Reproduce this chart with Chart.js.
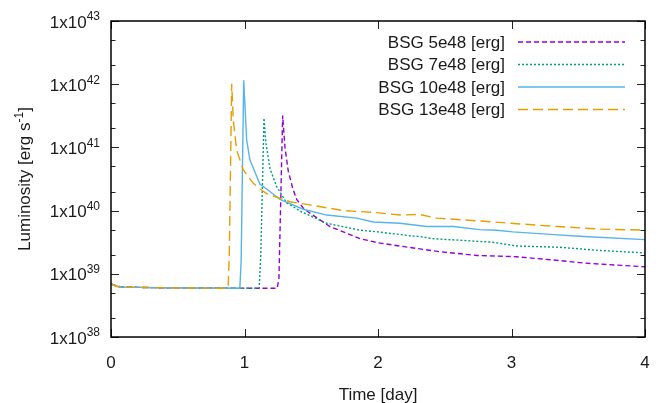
<!DOCTYPE html>
<html>
<head>
<meta charset="utf-8">
<script src="https://cdn.jsdelivr.net/npm/chart.js@4"></script>
<style>
  html, body { margin: 0; padding: 0; background: #fff; }
  #wrap { width: 659px; height: 403px; }
</style>
</head>
<body>
<div id="wrap"><canvas id="lum" width="659" height="403"></canvas></div>
<script>
// Light curves: time in days, luminosity in erg/s
const bsg5Time = [0, 0.05, 0.1, 0.4, 1.245, 1.258, 1.286, 1.303, 1.328, 1.36, 1.391, 1.44, 1.49, 1.64, 1.865, 2.0, 2.165, 2.46, 2.74, 3.04, 3.36, 3.54, 4.0];
const bsg5Lum = [6.9e38, 6.3e38, 6.15e38, 6.0e38, 5.9e38, 8.5e38, 3.2e41, 1.0e41, 4.2e40, 2.3e40, 1.5e40, 1.1e40, 9.1e39, 5.6e39, 3.6e39, 3.1e39, 2.75e39, 2.24e39, 1.95e39, 1.86e39, 1.62e39, 1.48e39, 1.29e39];

const bsg7Time = [0, 0.05, 0.1, 0.4, 1.11, 1.122, 1.146, 1.161, 1.191, 1.241, 1.316, 1.366, 1.416, 1.616, 1.865, 2.0, 2.24, 2.31, 2.41, 2.86, 3.04, 3.36, 3.66, 4.0];
const bsg7Lum = [6.9e38, 6.3e38, 6.15e38, 6.0e38, 5.9e38, 2.0e39, 2.9e41, 1.15e41, 4.6e40, 2.4e40, 1.32e40, 1.15e40, 9.8e39, 6.3e39, 4.9e39, 4.6e39, 4.0e39, 3.9e39, 3.6e39, 3.16e39, 2.75e39, 2.63e39, 2.34e39, 2.14e39];

const bsg10Time = [0, 0.05, 0.1, 0.4, 0.965, 0.975, 0.994, 1.016, 1.041, 1.091, 1.116, 1.166, 1.266, 1.44, 1.616, 1.84, 1.965, 2.165, 2.365, 2.565, 2.76, 2.89, 3.01, 3.29, 3.54, 4.0];
const bsg10Lum = [6.9e38, 6.3e38, 6.15e38, 6.0e38, 5.9e38, 1.6e39, 1.15e42, 1.32e41, 6.3e40, 3.5e40, 2.6e40, 2.2e40, 1.5e40, 1.05e40, 8.5e39, 7.6e39, 6.6e39, 6.3e39, 5.6e39, 5.6e39, 5.0e39, 4.9e39, 4.6e39, 4.2e39, 3.9e39, 3.47e39];

const bsg13Time = [0, 0.05, 0.1, 0.4, 0.877, 0.886, 0.904, 0.916, 0.941, 0.991, 1.066, 1.116, 1.166, 1.34, 1.49, 1.74, 1.99, 2.165, 2.31, 2.44, 2.74, 3.04, 3.34, 3.66, 4.0];
const bsg13Lum = [6.9e38, 6.3e38, 6.15e38, 6.0e38, 5.9e38, 2.0e39, 1.02e42, 2.7e41, 9.1e40, 4.4e40, 2.7e40, 2.2e40, 1.86e40, 1.38e40, 1.23e40, 1.0e40, 9.3e39, 8.5e39, 8.7e39, 7.6e39, 6.9e39, 6.2e39, 5.6e39, 5.1e39, 4.9e39];

const seriesLabels = ['BSG 5e48 [erg]', 'BSG 7e48 [erg]', 'BSG 10e48 [erg]', 'BSG 13e48 [erg]'];
const xTicks = [0, 1, 2, 3, 4];
const yDecades = [38, 39, 40, 41, 42, 43];

const FONT = '"Liberation Sans", Arial, sans-serif';
const INK = '#1a1a1a';

function pts(times, lums) {
  return times.map((t, i) => ({ x: t, y: lums[i] }));
}

function line(label, data, color, dash, order) {
  return {
    label,
    data,
    borderColor: color,
    borderWidth: 1.4,
    borderDash: dash,
    pointRadius: 0,
    tension: 0,
    fill: false,
    order
  };
}

// runs of [text, raised?] laid out left to right; returns nothing, draws at x anchored by align
function richText(ctx, parts, x, y, size, align) {
  const small = Math.round(size * 0.7);
  const widths = parts.map(([t, up]) => {
    ctx.font = `${up ? small : size}px ${FONT}`;
    return ctx.measureText(t).width;
  });
  const total = widths.reduce((s, w) => s + w, 0);
  let cx = align === 'right' ? x - total : align === 'center' ? x - total / 2 : x;
  ctx.textAlign = 'left';
  parts.forEach(([t, up], i) => {
    ctx.font = `${up ? small : size}px ${FONT}`;
    ctx.fillText(t, cx, up ? y - size * 0.42 : y);
    cx += widths[i];
  });
}

const frame = {
  id: 'frame',
  afterDraw(chart) {
    const { ctx, chartArea: a, scales } = chart;
    const xs = scales.x;
    const ys = scales.y;
    ctx.save();
    ctx.fillStyle = INK;
    ctx.textBaseline = 'alphabetic';

    // inward ticks on all four sides
    ctx.strokeStyle = '#222';
    ctx.lineWidth = 1;
    ctx.beginPath();
    xTicks.forEach((v) => {
      const px = Math.round(xs.getPixelForValue(v)) + 0.5;
      ctx.moveTo(px, a.bottom); ctx.lineTo(px, a.bottom - 8);
      ctx.moveTo(px, a.top); ctx.lineTo(px, a.top + 8);
    });
    yDecades.forEach((d) => {
      [[1, 8], [2, 4.5], [5, 4.5]].forEach(([m, len]) => {
        if (d === 43 && m > 1) return;
        const py = Math.round(ys.getPixelForValue(m * Math.pow(10, d))) + 0.5;
        ctx.moveTo(a.left, py); ctx.lineTo(a.left + len, py);
        ctx.moveTo(a.right, py); ctx.lineTo(a.right - len, py);
      });
    });
    ctx.stroke();

    ctx.lineWidth = 1.5;
    ctx.strokeStyle = '#000';
    ctx.strokeRect(a.left, a.top, a.right - a.left, a.bottom - a.top);

    // tick labels
    yDecades.forEach((d) => {
      const py = ys.getPixelForValue(Math.pow(10, d));
      richText(ctx, [['1x10', false], [String(d), true]], a.left - 11, py + 6.5, 17, 'right');
    });
    ctx.font = `17px ${FONT}`;
    ctx.textAlign = 'center';
    xTicks.forEach((v) => {
      ctx.fillText(String(v), xs.getPixelForValue(v), a.bottom + 31);
    });

    // axis titles
    ctx.fillText('Time [day]', (a.left + a.right) / 2, 400);
    ctx.save();
    ctx.translate(30, (a.top + a.bottom) / 2);
    ctx.rotate(-Math.PI / 2);
    richText(ctx, [['Luminosity [erg s', false], ['-1', true], [']', false]], 0, 0, 17, 'center');
    ctx.restore();

    // key, text left of sample line
    chart.data.datasets.forEach((ds, i) => {
      const y = 42 + i * 22.5;
      ctx.font = `17px ${FONT}`;
      ctx.textAlign = 'right';
      ctx.textBaseline = 'middle';
      ctx.fillStyle = INK;
      ctx.fillText(ds.label, 505, y + 1);
      ctx.strokeStyle = ds.borderColor;
      ctx.lineWidth = ds.borderWidth;
      ctx.setLineDash(ds.borderDash);
      ctx.beginPath();
      ctx.moveTo(518, y);
      ctx.lineTo(625, y);
      ctx.stroke();
    });
    ctx.setLineDash([]);
    ctx.restore();
  }
};

new Chart(document.getElementById('lum'), {
  type: 'line',
  data: {
    datasets: [
      line(seriesLabels[0], pts(bsg5Time, bsg5Lum), '#9400d3', [5, 3], 4),
      line(seriesLabels[1], pts(bsg7Time, bsg7Lum), '#009e73', [2, 2], 3),
      line(seriesLabels[2], pts(bsg10Time, bsg10Lum), '#56b4e9', [], 2),
      line(seriesLabels[3], pts(bsg13Time, bsg13Lum), '#e69f00', [10, 5], 1)
    ]
  },
  options: {
    responsive: false,
    animation: false,
    events: [],
    layout: { padding: { left: 111, right: 14, top: 21, bottom: 66 } },
    plugins: { legend: { display: false }, tooltip: { enabled: false } },
    scales: {
      x: { type: 'linear', min: 0, max: 4, display: false },
      y: { type: 'logarithmic', min: 1e38, max: 1e43, display: false }
    }
  },
  plugins: [frame]
});
</script>
</body>
</html>
